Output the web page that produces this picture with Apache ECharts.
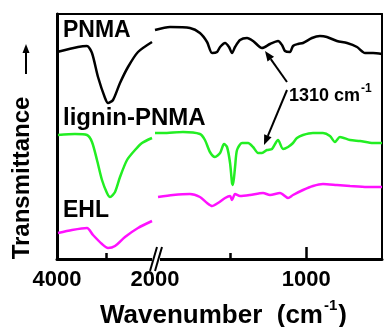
<!DOCTYPE html>
<html>
<head>
<meta charset="utf-8">
<script src="https://cdn.jsdelivr.net/npm/echarts@6/dist/echarts.min.js"></script>
<style>
  html, body {margin: 0; padding: 0; background: #fff;}
  #main {width: 384px; height: 327px;}
</style>
</head>
<body>
<div id="main"></div>
<script>
// wavenumber (cm-1) / transmittance (a.u.), left panel 4000-2000, right panel 2000-500
const pnmaLeftWn = [4000, 3571, 3388, 3286, 3163, 3020, 2959, 2857, 2714, 2551, 2347, 2061];
const pnmaLeftT = [207, 212, 213, 206, 182, 161, 156, 159, 176, 192, 207, 217];
const pnmaRightWn = [2000, 1901, 1769, 1703, 1656, 1623, 1590, 1570, 1537, 1511, 1491, 1471, 1438, 1392, 1352, 1293, 1240, 1187, 1161, 1141, 1108, 1088, 1055, 1022, 963, 910, 864, 798, 731, 665, 612, 559, 500];
const pnmaRightT = [229, 232, 231, 226, 217, 206, 207, 212, 216, 212, 206, 212, 219, 221, 218, 211, 215, 218, 214, 208, 207, 213, 215, 216, 221, 223, 222, 218, 216, 212, 206, 206, 205];

const ligLeftWn = [3980, 3633, 3388, 3286, 3184, 3082, 2980, 2918, 2816, 2714, 2571, 2408, 2265, 2061];
const ligLeftT = [124, 125, 124, 117, 99, 79, 66, 62, 67, 82, 99, 109, 116, 121];
const ligRightWn = [2000, 1947, 1815, 1703, 1670, 1637, 1604, 1570, 1544, 1524, 1504, 1491, 1485, 1471, 1458, 1425, 1385, 1352, 1319, 1293, 1260, 1227, 1187, 1154, 1121, 1088, 1062, 1022, 956, 890, 844, 811, 778, 711, 645, 559, 500];
const ligRightT = [126, 126, 127, 125, 119, 107, 102, 106, 115, 112, 96, 76, 74, 92, 109, 116, 116, 112, 106, 106, 109, 110, 119, 110, 112, 116, 121, 124, 126, 126, 123, 117, 122, 119, 118, 116, 116];

const ehlLeftWn = [3980, 3694, 3388, 3265, 3082, 2959, 2816, 2612, 2347, 2061];
const ehlLeftT = [26, 29, 31, 24, 15, 11, 13, 22, 31, 38];
const ehlRightWn = [1980, 1881, 1769, 1703, 1656, 1623, 1584, 1537, 1504, 1491, 1471, 1438, 1372, 1286, 1240, 1174, 1121, 1088, 1022, 956, 890, 798, 711, 599, 500];
const ehlRightT = [62, 64, 65, 62, 56, 53, 56, 61, 63, 59, 65, 63, 64, 66, 64, 66, 61, 64, 69, 73, 75, 74, 73, 72, 72];

const leftTickLabels = [4000, 2000];
const leftMinorTicks = [3000];
const rightTickLabels = [1000];
const rightMinorTicks = [1500];

const zip = (xs, ys) => xs.map((x, i) => [x, ys[i]]);
const FONT = 'Liberation Sans';

const ctx = document.createElement('canvas').getContext('2d');
const textW = (t, size) => {
    ctx.font = 'bold ' + size + 'px "' + FONT + '"';
    return ctx.measureText(t).width;
};

const myChart = echarts.init(document.getElementById('main'));

const line = (data, color, xi, yi) => ({
    type: 'line', data, xAxisIndex: xi, yAxisIndex: yi,
    showSymbol: false, smooth: 0.25,
    lineStyle: {color, width: 2.5}, silent: true
});

const plainAxis = (extra) => Object.assign({
    type: 'value', splitLine: {show: false},
    axisTick: {show: false}, axisLabel: {show: false},
    axisLine: {show: true, onZero: false, lineStyle: {color: '#000', width: 2}}
}, extra);

const axisLine3 = {show: true, onZero: false, lineStyle: {color: '#000', width: 3}};
const tickLabel = {show: true, margin: 10, fontSize: 22, fontWeight: 'bold', fontFamily: FONT, color: '#000', formatter: v => String(v)};

const arrow = (x1, y1, x2, y2, len, half) => {
    const a = Math.atan2(y2 - y1, x2 - x1);
    const bx = x2 - len * Math.cos(a), by = y2 - len * Math.sin(a);
    const px = -Math.sin(a) * half, py = Math.cos(a) * half;
    return [
        {type: 'line', z: 100, shape: {x1, y1, x2: bx, y2: by}, style: {stroke: '#000', lineWidth: 2}},
        {type: 'polygon', z: 100, shape: {points: [[x2, y2], [bx + px, by + py], [bx - px, by - py]]}, style: {fill: '#000'}}
    ];
};

const label = (text, x, y, size, extra, rest) => Object.assign({
    type: 'text', x, y, z: 100,
    style: Object.assign({
        text, fontSize: size, fontWeight: 'bold', fontFamily: FONT,
        fill: '#000', align: 'left', verticalAlign: 'middle'
    }, extra)
}, rest);

// text followed by a raised "-1"
const withSup = (main, tail, left, y, size, supSize) => {
    const w1 = textW(main, size);
    const w2 = textW('-1', supSize);
    const out = [
        label(main, left, y, size),
        label('-1', left + w1 + 1, y - size * 0.38, supSize)
    ];
    if (tail) out.push(label(tail, left + w1 + w2 + 2, y, size));
    return out;
};

const wnSize = 26;
const wnW = textW('Wavenumber  (cm', wnSize) + textW('-1', 15) + textW(')', wnSize) + 3;

myChart.setOption({
    animation: false,
    backgroundColor: '#fff',
    grid: [
        {left: 57, top: 14, width: 98, height: 245, outerBoundsMode: 'none'},
        {left: 155, top: 14, width: 227, height: 245, outerBoundsMode: 'none'},
        {left: 155, top: 14, width: 227, height: 245, outerBoundsMode: 'none'}
    ],
    xAxis: [
        plainAxis({
            gridIndex: 0, min: 2000, max: 4000, inverse: true, position: 'bottom',
            axisLine: axisLine3,
            axisTick: {show: true, inside: true, length: 6, customValues: leftMinorTicks, lineStyle: {width: 2.5, color: '#000'}},
            axisLabel: Object.assign({customValues: leftTickLabels}, tickLabel)
        }),
        plainAxis({gridIndex: 0, min: 2000, max: 4000, inverse: true, position: 'top'}),
        plainAxis({
            gridIndex: 1, min: 500, max: 2000, inverse: true, position: 'bottom',
            axisLine: axisLine3,
            axisTick: {show: true, inside: true, length: 12, customValues: rightTickLabels, lineStyle: {width: 2.5, color: '#000'}},
            axisLabel: Object.assign({customValues: rightTickLabels}, tickLabel)
        }),
        plainAxis({gridIndex: 1, min: 500, max: 2000, inverse: true, position: 'top'}),
        plainAxis({
            gridIndex: 2, min: 500, max: 2000, inverse: true, position: 'bottom',
            axisLine: {show: false},
            axisTick: {show: true, inside: true, length: 6, customValues: rightMinorTicks, lineStyle: {width: 2.5, color: '#000'}}
        })
    ],
    yAxis: [
        plainAxis({gridIndex: 0, min: 0, max: 245, position: 'left', axisLine: axisLine3}),
        plainAxis({gridIndex: 1, min: 0, max: 245, position: 'right'}),
        plainAxis({gridIndex: 2, min: 0, max: 245, show: false})
    ],
    series: [
        line(zip(pnmaLeftWn, pnmaLeftT), '#000000', 0, 0),
        line(zip(pnmaRightWn, pnmaRightT), '#000000', 2, 1),
        line(zip(ligLeftWn, ligLeftT), '#22ee22', 0, 0),
        line(zip(ligRightWn, ligRightT), '#22ee22', 2, 1),
        line(zip(ehlLeftWn, ehlLeftT), '#ff11ff', 0, 0),
        line(zip(ehlRightWn, ehlRightT), '#ff11ff', 2, 1)
    ],
    graphic: [
        // axis break
        {type: 'rect', z: 100, shape: {x: 152, y: 255, width: 8, height: 8}, style: {fill: '#fff'}},
        {type: 'line', z: 101, shape: {x1: 150, y1: 271, x2: 157, y2: 247}, style: {stroke: '#000', lineWidth: 2}},
        {type: 'line', z: 101, shape: {x1: 155, y1: 271, x2: 162, y2: 247}, style: {stroke: '#000', lineWidth: 2}},
        label('PNMA', 63, 31, 23),
        label('lignin-PNMA', 63, 118, 24),
        label('EHL', 63, 211, 23),
        ...withSup('1310 cm', null, 289, 96, 18, 12),
        ...arrow(287, 82, 265, 51, 10, 4),
        ...arrow(287, 90, 264, 145, 10, 4),
        label('Transmittance', 22, 178, 24, {align: 'center'}, {rotation: Math.PI / 2}),
        ...arrow(26, 74, 26, 44, 9, 3.5),
        ...withSup('Wavenumber  (cm', ')', 224 - wnW / 2, 316, wnSize, 15)
    ]
});
</script>
</body>
</html>
